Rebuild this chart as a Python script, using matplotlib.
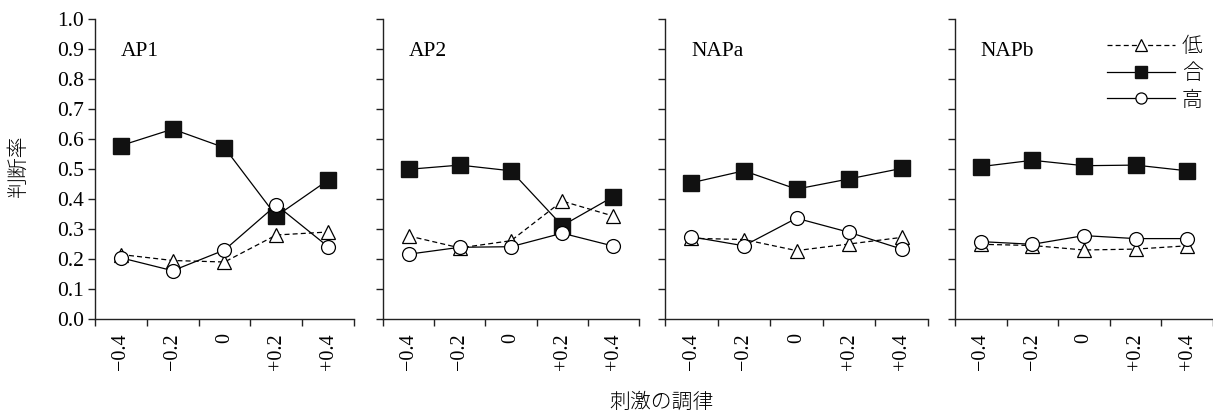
import numpy as np
import matplotlib
matplotlib.use("Agg")
from matplotlib import pyplot as plt

plt.rcParams['font.family'] = ['Liberation Serif', 'Noto Sans CJK JP', 'DejaVu Sans']

# data
levels = ['\u22120.4', '\u22120.2', '0', '+0.2', '+0.4']
panels = ['AP1', 'AP2', 'NAPa', 'NAPb']
series_names = ['低', '合', '高']

low = [
    [0.215, 0.195, 0.19, 0.28, 0.29],
    [0.277, 0.237, 0.261, 0.393, 0.343],
    [0.269, 0.265, 0.228, 0.25, 0.272],
    [0.249, 0.245, 0.23, 0.233, 0.244],
]
match = [
    [0.578, 0.633, 0.571, 0.343, 0.463],
    [0.499, 0.513, 0.494, 0.311, 0.408],
    [0.454, 0.494, 0.433, 0.467, 0.502],
    [0.508, 0.529, 0.511, 0.513, 0.494],
]
high = [
    [0.204, 0.161, 0.23, 0.38, 0.241],
    [0.216, 0.239, 0.241, 0.286, 0.243],
    [0.274, 0.244, 0.336, 0.289, 0.233],
    [0.258, 0.249, 0.278, 0.268, 0.268],
]

W, H = 1213, 419
fig = plt.figure(figsize=[W / 100, H / 100], dpi=100)

# panel boxes in pixels: left, right
boxes = [(95, 354), (383, 639), (665, 928), (955, 1213)]
y_bottom, y_top = 319, 19

x = np.arange(len(levels))
lw = 0.9
dash = (0, (4, 2.5))

for i, (l, r) in enumerate(boxes):
    ax = fig.add_axes([l / W, (H - y_bottom) / H, (r - l) / W, (y_bottom - y_top) / H])
    ax.plot(x, low[i], linestyle=dash, color='k', lw=lw, marker='^', markersize=10,
            markerfacecolor='w', markeredgecolor='k', markeredgewidth=0.9, label=series_names[0])
    ax.plot(x, match[i], '-', color='k', lw=lw, marker='s', markersize=11,
            markerfacecolor='#111111', markeredgecolor='#111111', label=series_names[1])
    ax.plot(x, high[i], '-', color='k', lw=lw, marker='o', markersize=10,
            markerfacecolor='w', markeredgecolor='k', markeredgewidth=0.9, label=series_names[2])

    ax.set_xlim(-0.5, len(levels) - 0.5)
    ax.set_ylim(0, 1)
    for s in ['top', 'right']:
        ax.spines[s].set_visible(False)
    for s in ['left', 'bottom']:
        ax.spines[s].set_linewidth(1.0)
        ax.spines[s].set_color('#222222')

    # boundary ticks (major) and centred labels (minor)
    ax.set_xticks(np.arange(-0.5, len(levels), 1.0))
    ax.set_xticklabels([])
    ax.set_xticks(x, minor=True)
    ax.set_xticklabels(levels, minor=True, rotation=90, fontsize=14.5)
    ax.tick_params(axis='x', which='major', direction='out', length=5, width=1, color='#222222')
    ax.tick_params(axis='x', which='minor', length=0, pad=10)

    ax.set_yticks(np.arange(0, 1.01, 0.1))
    ax.tick_params(axis='y', direction='out', length=5, width=1, color='#222222', labelsize=15.5, pad=3)
    if i == 0:
        ax.set_yticklabels(['%.1f' % v for v in np.arange(0, 1.01, 0.1)])
    else:
        ax.set_yticklabels([])

    ax.text(0.1, 0.89, panels[i], transform=ax.transAxes, fontsize=15.5, va='center', ha='left')

    if i == len(boxes) - 1:
        ax.legend(loc='upper right', bbox_to_anchor=(1.0, 0.98), frameon=False,
                  handlelength=3.3, handletextpad=0.3, labelspacing=0.22, borderpad=0,
                  markerscale=0.8, prop={'family': ['Noto Sans CJK JP'], 'size': 15, 'weight': 'light'})

fig.text(18 / W, 1 - 167 / H, '判断率', rotation=90, ha='center', va='center', fontsize=15,
         family=['Noto Sans CJK JP'], weight='light')
fig.text(662 / W, 1 - 402 / H, '刺激の調律', ha='center', va='center', fontsize=15,
         family=['Noto Sans CJK JP'], weight='light')

fig.savefig('out.png', dpi=100)
